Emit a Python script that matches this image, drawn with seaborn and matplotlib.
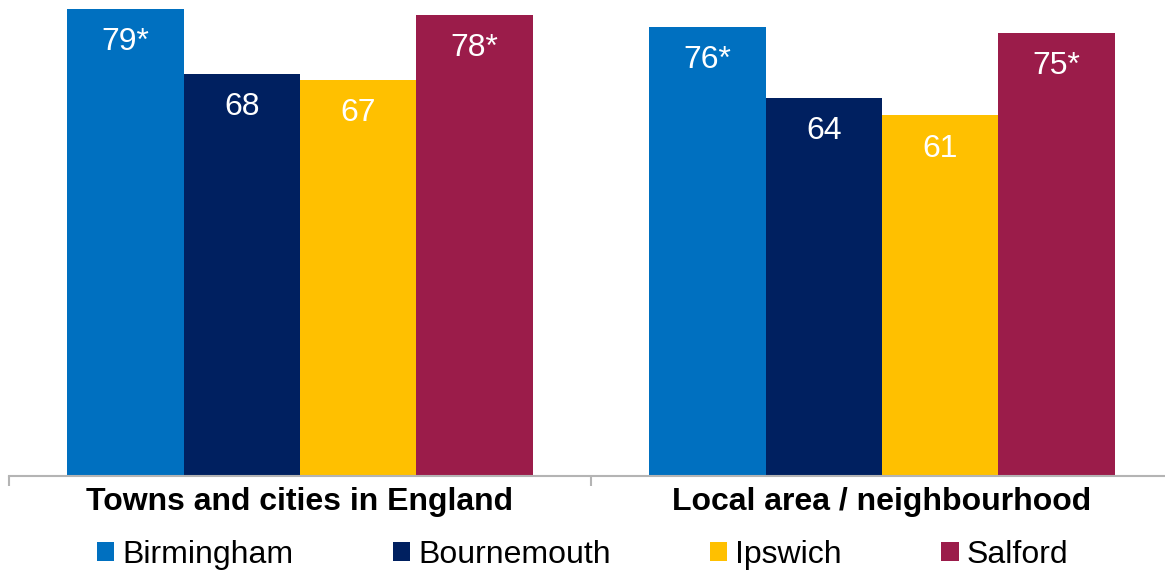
import matplotlib
matplotlib.use("Agg")
import matplotlib.pyplot as plt
import matplotlib.patches as mpatches
import seaborn as sns
import pandas as pd

categories = ["Towns and cities in England", "Local area / neighbourhood"]
places = ["Birmingham", "Bournemouth", "Ipswich", "Salford"]
birmingham = [79, 76]
bournemouth = [68, 64]
ipswich = [67, 61]
salford = [78, 75]
# significance marker shown next to each value
birmingham_sig = ["*", "*"]
bournemouth_sig = ["", ""]
ipswich_sig = ["", ""]
salford_sig = ["*", "*"]

colors = ["#0070C0", "#002060", "#FFC000", "#9B1C4A"]

series = [birmingham, bournemouth, ipswich, salford]
sigs = [birmingham_sig, bournemouth_sig, ipswich_sig, salford_sig]
rows = []
for place, vals, sg in zip(places, series, sigs):
    for cat, v, s in zip(categories, vals, sg):
        rows.append({"category": cat, "place": place, "value": v, "sig": s})
df = pd.DataFrame(rows)

sns.set_theme(style="white")
plt.rcParams["font.family"] = ["Liberation Sans", "DejaVu Sans"]

W, H = 1165, 574
FS = 23
fig = plt.figure(figsize=(W / 100, H / 100), dpi=100)
ax = fig.add_axes([9 / W, 98 / H, 1164 / W, 473 / H])

sns.barplot(data=df, x="category", y="value", hue="place", order=categories,
            hue_order=places, palette=colors, width=0.8, saturation=1,
            edgecolor="none", linewidth=0, legend=False, ax=ax)

ax.set_ylim(0, 80)
ax.set_xlim(-0.5, 1.5)

for container, place in zip(ax.containers, places):
    sub = df[df["place"] == place].set_index("category").loc[categories]
    labels = [f"{v}{s}" for v, s in zip(sub["value"], sub["sig"])]
    for bar, lab in zip(container, labels):
        ax.annotate(lab, (bar.get_x() + bar.get_width() / 2, bar.get_height()),
                    xytext=(0, -24), textcoords="offset points",
                    ha="center", va="center", color="white", fontsize=FS)

for side in ["top", "right", "left"]:
    ax.spines[side].set_visible(False)
ax.spines["bottom"].set_color("#B4B4B4")
ax.spines["bottom"].set_linewidth(1.5)
ax.set_yticks([])
ax.set_xlabel("")
ax.set_ylabel("")

ax.set_xticks([-0.5, 0.5, 1.5], minor=True)
ax.tick_params(axis="x", which="minor", length=7, width=1.5, color="#B4B4B4",
               direction="out", bottom=True)
ax.tick_params(axis="x", which="major", length=0, pad=8)
ax.set_xticks(range(len(categories)))
ax.set_xticklabels(categories, fontsize=FS, fontweight="bold", color="black")

handles = [mpatches.Patch(facecolor=c, edgecolor="none", label=p)
           for c, p in zip(colors, places)]
fig.legend(handles=handles, loc="center", bbox_to_anchor=(582.5 / W, 1 - 555 / H),
           ncol=4, frameon=False, fontsize=FS, handlelength=0.55,
           handleheight=0.55, handletextpad=0.25, columnspacing=3.1,
           borderpad=0, borderaxespad=0, labelcolor="black")

fig.savefig("out.png", dpi=100)
